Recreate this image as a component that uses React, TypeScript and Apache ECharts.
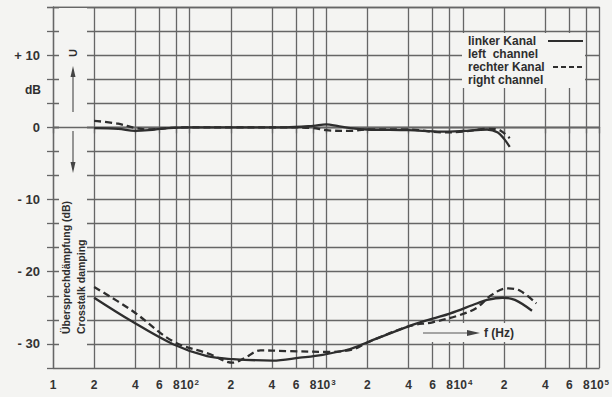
import React, { useEffect, useRef } from "react";
import * as echarts from "echarts";

// x-axis tick positions (Hz) and their printed labels ("10|2" = 10 with superscript 2)
const freqTicks = [10, 20, 40, 60, 80, 100, 200, 400, 600, 800, 1000, 2000, 4000, 6000, 8000, 10000, 20000, 40000, 60000, 80000, 100000];
const freqTickLabels = ["1", "2", "4", "6", "8", "10|2", "2", "4", "6", "8", "10|3", "2", "4", "6", "8", "10|4", "2", "4", "6", "8", "10|5"];

// y-axis labelled values (dB)
const dbLabelValues = [10, 0, -10, -20, -30];

// frequency response, left channel (solid)
const respLeftFreq = [20, 30, 40, 50, 70, 100, 200, 500, 800, 1000, 1200, 1500, 2000, 4000, 7000, 10000, 15000, 18000, 20000, 22000];
const respLeftDb = [-0.1, -0.2, -0.5, -0.4, -0.1, 0, 0, 0, 0.2, 0.4, 0.2, -0.1, -0.3, -0.4, -0.6, -0.5, -0.3, -0.7, -1.6, -2.7];

// frequency response, right channel (dashed)
const respRightFreq = [20, 30, 40, 50, 70, 100, 200, 500, 800, 1000, 1500, 2000, 4000, 7000, 10000, 15000, 18000, 20000, 22000];
const respRightDb = [0.9, 0.5, -0.1, -0.3, -0.1, 0, 0, 0, -0.1, -0.4, -0.5, -0.3, -0.3, -0.7, -0.6, -0.2, -0.3, -0.8, -1.5];

// crosstalk damping, left channel (solid)
const xtLeftFreq = [20, 38, 75, 134, 207, 405, 640, 940, 1490, 1980, 4090, 6000, 8000, 12600, 15000, 19500, 24000, 32000];
const xtLeftDb = [-23.6, -26.9, -30.0, -31.7, -32.1, -32.3, -31.9, -31.5, -30.7, -29.8, -27.5, -26.5, -25.8, -24.4, -23.9, -23.6, -23.9, -25.4];

// crosstalk damping, right channel (dashed)
const xtRightFreq = [20, 38, 75, 140, 207, 250, 330, 540, 1050, 1600, 2000, 4090, 6000, 9500, 12600, 16000, 20800, 26000, 34400];
const xtRightDb = [-22.1, -25.4, -29.6, -31.4, -32.6, -32.0, -30.9, -31.0, -31.1, -30.7, -29.8, -27.5, -27.0, -26.0, -25.0, -23.3, -22.3, -22.6, -24.4];

const legendLines = ["linker Kanal", "left  channel", "rechter Kanal", "right channel"];

const PAPER = "#f4f4f2";
const INK = "#2e2e2e";
const GRIDC = "#666666";
const FONT = "Liberation Sans, Arial, sans-serif";

const pairs = (f: number[], d: number[]) => f.map((v, i) => [v, d[i]]);

export default function App() {
  const ref = useRef<HTMLDivElement>(null);
  useEffect(() => {
    if (!ref.current) return;
    const chart = echarts.init(ref.current, undefined, { renderer: "svg" });
    const lineBase = (name: string, f: number[], d: number[], dashed: boolean, extra: any = {}) => ({
      name,
      type: "line",
      data: pairs(f, d),
      showSymbol: false,
      symbol: "none",
      smooth: 0.35,
      silent: true,
      lineStyle: { color: INK, width: 2.3, type: dashed ? [7, 4] : "solid" },
      z: 3,
      ...extra,
    });
    const txt = (text: string, x: number, y: number, extra: any = {}) => ({
      type: "text",
      x,
      y,
      z: 6,
      silent: true,
      style: {
        text,
        fill: INK,
        font: `bold 12px ${FONT}`,
        textAlign: "left",
        textVerticalAlign: "middle",
        ...(extra.style || {}),
      },
      ...(extra.rotation !== undefined ? { rotation: extra.rotation } : {}),
    });
    const option: any = {
      animation: false,
      backgroundColor: PAPER,
      grid: { left: 53, top: 7, width: 547, height: 361, containLabel: false },
      xAxis: {
        type: "log",
        logBase: 10,
        min: 10,
        max: 100000,
        axisLine: { show: true, lineStyle: { color: GRIDC, width: 1.3 } },
        axisTick: { show: true, length: 6, inside: false, customValues: freqTicks, lineStyle: { color: GRIDC, width: 1.3 } },
        splitLine: { show: true, lineStyle: { color: GRIDC, width: 1.3 } },
        minorTick: { show: false },
        axisLabel: {
          show: true,
          customValues: freqTicks,
          margin: 10,
          color: "#333",
          fontFamily: FONT,
          fontWeight: "bold",
          fontSize: 12,
          formatter: (v: number) => {
            let idx = 0;
            for (let i = 0; i < freqTicks.length; i++) {
              if (Math.abs(Math.log10(v) - Math.log10(freqTicks[i])) < 1e-6) idx = i;
            }
            const lab = freqTickLabels[idx];
            if (lab.indexOf("|") >= 0) {
              const [b, s] = lab.split("|");
              return `{n|${b}}{s|${s}}`;
            }
            return `{n|${lab}}`;
          },
          rich: {
            n: { fontFamily: FONT, fontWeight: "bold", fontSize: 12, color: "#333", lineHeight: 14 },
            s: { fontFamily: FONT, fontWeight: "bold", fontSize: 8, color: "#333", verticalAlign: "top", lineHeight: 14, padding: [0, 0, 6, 1] },
          },
        },
      },
      yAxis: {
        type: "value",
        min: -100 / 3,
        max: 50 / 3,
        interval: 10 / 3,
        axisLine: { show: true, lineStyle: { color: GRIDC, width: 1.3 } },
        axisTick: { show: true, length: 6, lineStyle: { color: GRIDC, width: 1.3 } },
        splitLine: { show: true, lineStyle: { color: GRIDC, width: 1.3 } },
        axisLabel: {
          show: true,
          margin: 13,
          color: "#333",
          fontFamily: FONT,
          fontWeight: "bold",
          fontSize: 13,
          formatter: (v: number) => {
            const r = Math.round(v);
            if (Math.abs(v - r) > 0.01) return "";
            if (dbLabelValues.indexOf(r) < 0) return "";
            if (r > 0) return "+ " + r;
            if (r < 0) return "- " + -r;
            return "0";
          },
        },
      },
      series: [
        lineBase("linker Kanal", respLeftFreq, respLeftDb, false, {
          markLine: {
            silent: true,
            symbol: "none",
            label: { show: false },
            lineStyle: { color: GRIDC, width: 1.3, type: "solid" },
            data: [{ yAxis: 0 }],
            z: 2,
          },
        }),
        lineBase("rechter Kanal", respRightFreq, respRightDb, true),
        lineBase("linker Kanal Übersprechen", xtLeftFreq, xtLeftDb, false),
        lineBase("rechter Kanal Übersprechen", xtRightFreq, xtRightDb, true),
      ],
      graphic: [
        // paper-coloured patches behind annotations
        { type: "rect", z: 1, silent: true, shape: { x: 59, y: 8, width: 28, height: 359 }, style: { fill: PAPER } },
        { type: "rect", z: 1, silent: true, shape: { x: 462, y: 33, width: 123, height: 55 }, style: { fill: PAPER } },
        { type: "rect", z: 1, silent: true, shape: { x: 420, y: 323, width: 110, height: 19 }, style: { fill: PAPER } },
        // U with arrows
        txt("U", 73, 53, { rotation: Math.PI / 2, style: { textAlign: "center", font: `bold 11px ${FONT}` } }),
        { type: "line", z: 6, silent: true, shape: { x1: 73, y1: 112, x2: 73, y2: 74 }, style: { stroke: "#555", lineWidth: 1.2 } },
        { type: "polygon", z: 6, silent: true, shape: { points: [[70.5, 77], [73, 66], [75.5, 77]] }, style: { fill: "#444" } },
        { type: "line", z: 6, silent: true, shape: { x1: 73, y1: 131, x2: 73, y2: 164 }, style: { stroke: "#555", lineWidth: 1.2 } },
        { type: "polygon", z: 6, silent: true, shape: { points: [[70.5, 162], [73, 173], [75.5, 162]] }, style: { fill: "#444" } },
        txt("dB", 41, 90, { style: { textAlign: "right", font: `bold 12px ${FONT}` } }),
        // rotated axis title
        txt("Übersprechdämpfung (dB)", 66, 334, { rotation: Math.PI / 2, style: { font: `bold 10.5px ${FONT}` } }),
        txt("Crosstalk damping", 81, 334, { rotation: Math.PI / 2, style: { font: `bold 10.5px ${FONT}` } }),
        // legend
        txt(legendLines[0], 468, 41),
        txt(legendLines[1], 468, 54),
        txt(legendLines[2], 468, 67),
        txt(legendLines[3], 468, 80),
        { type: "line", z: 6, silent: true, shape: { x1: 548, y1: 41, x2: 583, y2: 41 }, style: { stroke: INK, lineWidth: 2 } },
        { type: "line", z: 6, silent: true, shape: { x1: 553, y1: 67, x2: 583, y2: 67 }, style: { stroke: INK, lineWidth: 2, lineDash: [5, 3] } },
        // f (Hz) arrow
        { type: "line", z: 6, silent: true, shape: { x1: 423, y1: 333, x2: 470, y2: 333 }, style: { stroke: "#555", lineWidth: 1.2 } },
        { type: "polygon", z: 6, silent: true, shape: { points: [[467, 330], [480, 333], [467, 336]] }, style: { fill: "#444" } },
        txt("f (Hz)", 484, 333),
      ],
    };
    chart.setOption(option);
    return () => chart.dispose();
  }, []);
  return (
    <div
      ref={ref}
      style={{ position: "fixed", left: 0, top: 0, width: 612, height: 397, background: PAPER }}
    />
  );
}
